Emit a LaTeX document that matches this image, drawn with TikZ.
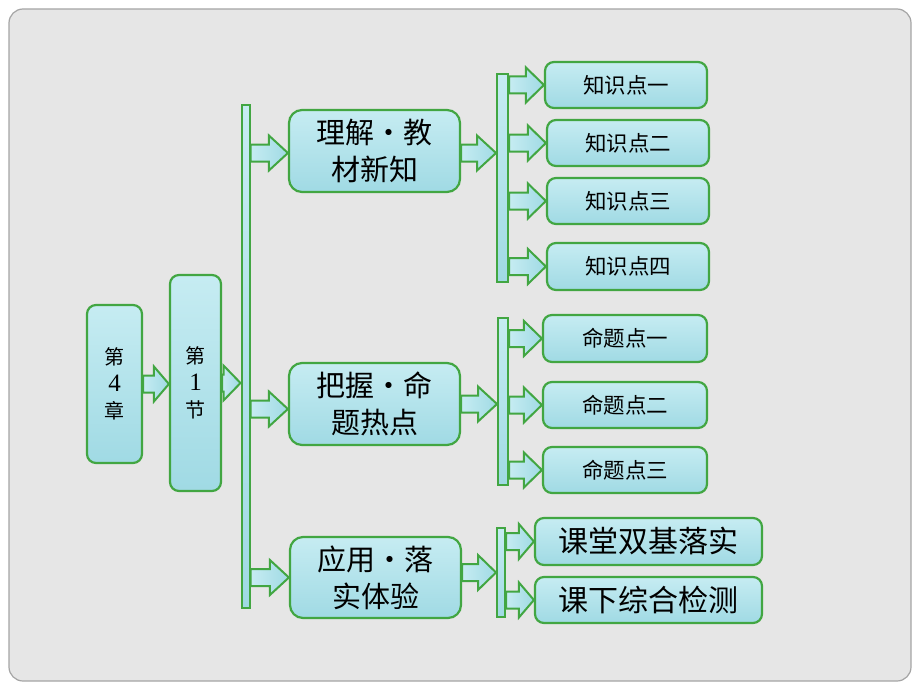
\documentclass[tikz,border=0pt]{standalone}
\usepackage{fontspec}
\setmainfont{Liberation Serif}
\newfontfamily\cjk{Noto Sans CJK SC}
\usetikzlibrary{calc}
\definecolor{bord}{RGB}{66,166,66}
\definecolor{tealA}{RGB}{198,236,242}
\definecolor{tealB}{RGB}{160,218,228}
\definecolor{bgc}{RGB}{230,230,230}
\definecolor{framec}{RGB}{165,165,165}
\tikzset{
  box/.style={draw=bord, line width=2.2pt, rounded corners=9pt, top color=tealA, bottom color=tealB, inner sep=0pt, align=center},
  barbox/.style={draw=bord, line width=2pt, top color=tealA, bottom color=tealB, inner sep=0pt},
  arr/.style={draw=bord, line width=2pt, line join=miter, left color=tealA, right color=tealB},
  fbig/.style={font=\cjk\fontsize{29}{37}\selectfont},
  fmid/.style={font=\cjk\fontsize{30}{36}\selectfont},
  fsmall/.style={font=\cjk\fontsize{21.5}{26}\selectfont},
  fvert/.style={font=\cjk\fontsize{20}{27}\selectfont},
}
\newcommand\fatarrow[3][19]{%
  \path[arr] let \p1=(#2), \p2=(#3) in
  (\x1,\y2+8.5pt) -- (\x2-#1pt,\y2+8.5pt) -- (\x2-#1pt,\y2+17.5pt) -- (\x2,\y2)
  -- (\x2-#1pt,\y2-17.5pt) -- (\x2-#1pt,\y2-8.5pt) -- (\x1,\y2-8.5pt) -- cycle;}
\newcommand\digitx[1]{{\rmfamily\fontsize{25}{27}\selectfont #1}}
\begin{document}
\begin{tikzpicture}[x=1pt,y=-1pt]
\useasboundingbox (0,0) rectangle (920,690);
\fill[white] (0,0) rectangle (920,690);
\draw[framec, fill=bgc, line width=1.2pt, rounded corners=14pt] (9,9) rectangle (911,681);

% level 0 / 1
\node[box, fvert, minimum width=55pt, minimum height=158pt] (ch) at (114.5,384) {第\\\digitx{4}\\章};
\node[box, fvert, minimum width=51pt, minimum height=216pt] (jie) at (195.5,383) {第\\\digitx{1}\\节};
\node[barbox, minimum width=8pt, minimum height=503pt] (bar1) at (245.5,356.5) {};

% level 2
\node[box, fbig, minimum width=171pt, minimum height=82pt, rounded corners=13pt] (b1) at (374.5,151) {理解{\makebox[1em]{•}}教\\材新知};
\node[box, fbig, minimum width=171pt, minimum height=82pt, rounded corners=13pt] (b2) at (374.5,404) {把握{\makebox[1em]{•}}命\\题热点};
\node[box, fbig, minimum width=171pt, minimum height=81pt, rounded corners=13pt] (b3) at (375.5,577.5) {应用{\makebox[1em]{•}}落\\实体验};

% bars level 3
\node[barbox, minimum width=11pt, minimum height=208pt] (bar2) at (502.5,178) {};
\node[barbox, minimum width=10pt, minimum height=167pt] (bar3) at (503,401.5) {};
\node[barbox, minimum width=8pt, minimum height=89pt] (bar4) at (501,572.5) {};

% level 3 boxes
\node[box, fsmall, minimum width=162pt, minimum height=46pt] (k1) at (626,85) {知识点一};
\node[box, fsmall, minimum width=162pt, minimum height=46pt] (k2) at (628,143) {知识点二};
\node[box, fsmall, minimum width=162pt, minimum height=46pt] (k3) at (628,201) {知识点三};
\node[box, fsmall, minimum width=162pt, minimum height=47pt] (k4) at (628,266.5) {知识点四};
\node[box, fsmall, minimum width=164pt, minimum height=47pt] (m1) at (625,338.5) {命题点一};
\node[box, fsmall, minimum width=164pt, minimum height=46pt] (m2) at (625,405) {命题点二};
\node[box, fsmall, minimum width=164pt, minimum height=46pt] (m3) at (625,470) {命题点三};
\node[box, fmid, minimum width=227pt, minimum height=47pt] (s1) at (648.5,541.5) {课堂双基落实};
\node[box, fmid, minimum width=227pt, minimum height=46pt] (s2) at (648.5,600) {课下综合检测};

% arrows
\fatarrow[15]{ch.east}{jie.west |- ch.east}
\fatarrow[17]{jie.east}{bar1.west |- jie.east}
\fatarrow[19]{bar1.east}{$(b1.west)+(0,2)$}
\fatarrow[19]{bar1.east}{$(b2.west)+(0,5)$}
\fatarrow[19]{bar1.east}{b3.west}
\fatarrow[19]{b1.east}{$(bar2.west |- b1.east)+(0,2)$}
\fatarrow[18]{bar2.east}{k1.west}
\fatarrow[18]{bar2.east}{k2.west}
\fatarrow[18]{bar2.east}{k3.west}
\fatarrow[18]{bar2.east}{k4.west}
\fatarrow[19]{b2.east}{bar3.west |- b2.east}
\fatarrow[18]{bar3.east}{m1.west}
\fatarrow[18]{bar3.east}{m2.west}
\fatarrow[18]{bar3.east}{m3.west}
\fatarrow[18]{b3.east}{$(bar4.west |- b3.east)+(0,-5)$}
\fatarrow[15]{bar4.east}{s1.west}
\fatarrow[15]{bar4.east}{s2.west}
\end{tikzpicture}
\end{document}
